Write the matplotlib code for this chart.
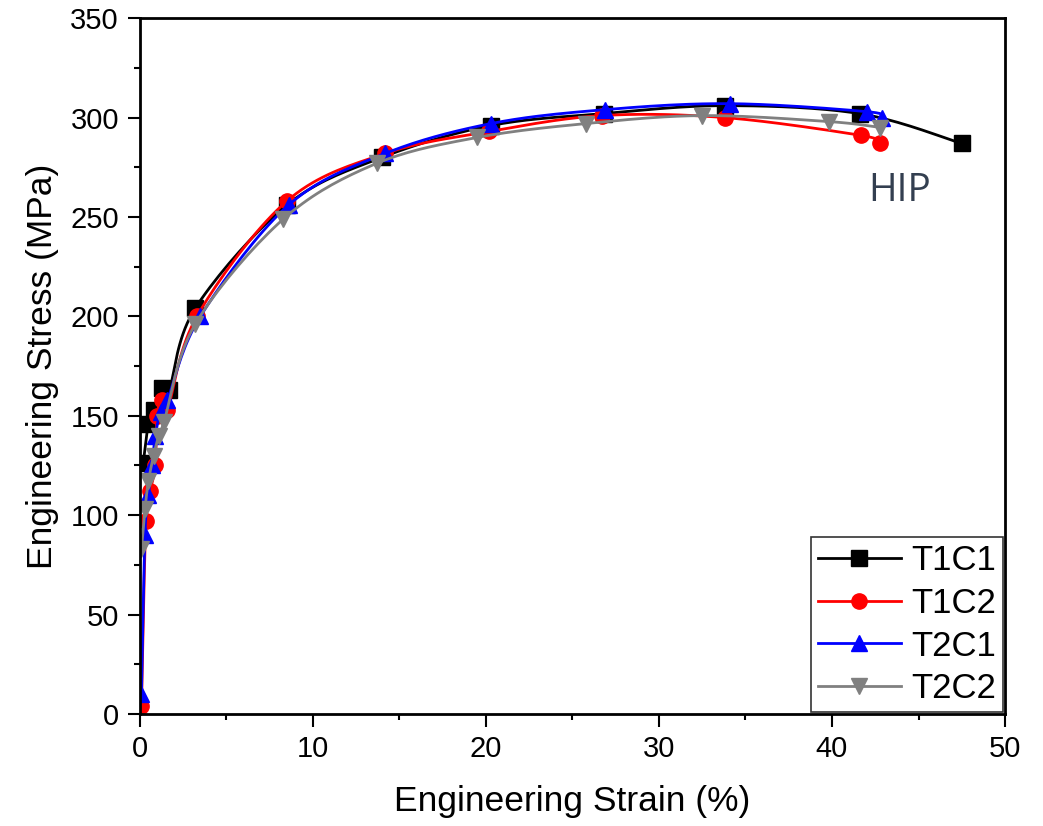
import numpy as np
import matplotlib
matplotlib.use('Agg')
import matplotlib.pyplot as plt
from matplotlib.ticker import MultipleLocator

plt.rcParams['font.family'] = ['Liberation Sans', 'DejaVu Sans']

# strain (%) and stress (MPa)
t1c1_x = [0.2, 0.5, 0.8, 1.3, 1.7, 3.2, 8.5, 14.0, 20.3, 26.8, 33.8, 41.6, 47.5]
t1c1_y = [126, 146, 153, 164, 163, 204, 256, 280, 296, 302, 306, 302, 287]

t1c2_x = [0.1, 0.35, 0.6, 0.9, 1.0, 1.3, 1.6, 3.3, 8.5, 14.2, 20.2, 26.7, 33.8, 41.7, 42.8]
t1c2_y = [4, 97, 112, 125, 150, 158, 153, 200, 258, 282, 293, 301, 300, 291, 287]

t2c1_x = [0.1, 0.3, 0.5, 0.7, 0.9, 1.2, 1.6, 3.5, 8.6, 14.2, 20.3, 26.9, 34.1, 42.0, 42.9]
t2c1_y = [10, 90, 110, 125, 140, 152, 158, 200, 256, 282, 297, 304, 307, 303, 300]

t2c2_x = [0.1, 0.3, 0.5, 0.8, 1.1, 1.4, 3.2, 8.3, 13.7, 19.5, 25.8, 32.5, 39.8, 42.8]
t2c2_y = [83, 103, 117, 130, 140, 147, 196, 249, 277, 290, 297, 301, 298, 295]


def smooth(xs, ys, n=20):
    # Catmull-Rom through the points, in axis-normalised units
    p = np.column_stack([np.array(xs) / 50.0, np.array(ys) / 350.0])
    p = np.vstack([p[0], p, p[-1]])
    out = []
    for i in range(1, len(p) - 2):
        p0, p1, p2, p3 = p[i - 1], p[i], p[i + 1], p[i + 2]
        t = np.linspace(0, 1, n)[:, None]
        seg = 0.5 * ((2 * p1) + (-p0 + p2) * t + (2 * p0 - 5 * p1 + 4 * p2 - p3) * t ** 2
                     + (-p0 + 3 * p1 - 3 * p2 + p3) * t ** 3)
        out.append(seg)
    out = np.vstack(out)
    return out[:, 0] * 50.0, out[:, 1] * 350.0


fig = plt.figure(figsize=(10.43, 8.26), dpi=100)
ax = fig.add_axes([0.134, 0.1356, 0.8296, 0.8424])

series = [
    ('T1C1', t1c1_x, t1c1_y, 'black', 's'),
    ('T1C2', t1c2_x, t1c2_y, 'red', 'o'),
    ('T2C1', t2c1_x, t2c1_y, 'blue', '^'),
    ('T2C2', t2c2_x, t2c2_y, 'gray', 'v'),
]

for name, xs, ys, col, mk in series:
    sx, sy = smooth(xs, ys)
    ax.plot(sx, sy, color=col, lw=2)
    ax.plot(xs, ys, linestyle='none', marker=mk, color=col, markersize=11)
    ax.plot([], [], color=col, lw=2, marker=mk, markersize=11, label=name)

ax.text(43.9, 263, 'HIP', fontsize=28, color='#333f50', family=['Open Sans', 'DejaVu Sans'],
        ha='center', va='center')

ax.set_xlim(0, 50)
ax.set_ylim(0, 350)
ax.xaxis.set_major_locator(MultipleLocator(10))
ax.xaxis.set_minor_locator(MultipleLocator(5))
ax.yaxis.set_major_locator(MultipleLocator(50))
ax.yaxis.set_minor_locator(MultipleLocator(25))
ax.tick_params(which='major', direction='out', length=9, width=1.5, labelsize=21, pad=6)
ax.tick_params(which='minor', direction='out', length=4, width=1.5)
for s in ax.spines.values():
    s.set_linewidth(2)

ax.set_xlabel('Engineering Strain (%)', fontsize=25.5, labelpad=16)
ax.set_ylabel('Engineering Stress (MPa)', fontsize=25.5, labelpad=8)

leg = ax.legend(loc='lower right', fontsize=25, frameon=True, fancybox=False,
                edgecolor='black', handlelength=2.4, borderaxespad=0.05,
                borderpad=0.2, labelspacing=0.28, handletextpad=0.3)
leg.get_frame().set_linewidth(1.2)

fig.savefig('out.png', dpi=100)
